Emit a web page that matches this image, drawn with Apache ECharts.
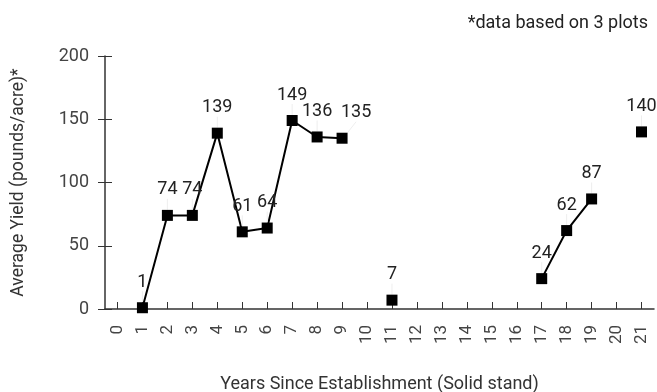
<!DOCTYPE html>
<html><head><meta charset="utf-8">
<script src="https://cdn.jsdelivr.net/npm/echarts@6/dist/echarts.min.js"></script>
<style>html,body{margin:0;padding:0;background:#fff}#c{width:657px;height:392px}</style>
</head><body><div id="c"></div>
<script>
const years = ['0','1','2','3','4','5','6','7','8','9','10','11','12','13','14','15','16','17','18','19','20','21'];
const yieldValues = [null,1,74,74,139,61,64,149,136,135,null,7,null,null,null,null,null,24,62,87,null,140];
const yTicks = [0,50,100,150,200];
const note = '*data based on 3 plots';
const xTitle = 'Years Since Establishment (Solid stand)';
const yTitle = 'Average Yield (pounds/acre)*';

const FONT = 'Roboto';
const chart = echarts.init(document.getElementById('c'));
const axisCol = '#333';
const G = {left: 105, right: 3, top: 56, bottom: 83};
const W = 657 - G.left - G.right, H = 392 - G.top - G.bottom;
chart.setOption({
  animation: false,
  textStyle: {fontFamily: FONT},
  title: {text: note, right: 4, top: 9, textStyle: {fontFamily: FONT, fontSize: 18, fontWeight: 'normal', color: '#222'}},
  grid: Object.assign({outerBoundsMode: 'none', containLabel: false}, G),
  xAxis: [{
    type: 'category', data: years, boundaryGap: true,
    name: xTitle, nameLocation: 'middle', nameGap: 66,
    nameTextStyle: {fontSize: 18, color: '#333'},
    axisLine: {lineStyle: {color: axisCol, width: 1.5}},
    axisTick: {alignWithLabel: true, length: 7, lineStyle: {color: axisCol}},
    axisLabel: {rotate: 90, fontSize: 17, color: '#444', margin: 16, interval: 0}
  }, {
    type: 'category', data: years, boundaryGap: true, position: 'top', offset: -H,
    axisLine: {show: false},
    axisTick: {show: true, alignWithLabel: true, length: 7, lineStyle: {color: axisCol}},
    axisLabel: {show: false}
  }],
  yAxis: [{
    type: 'value', min: 0, max: 200, interval: 50,
    name: yTitle, nameLocation: 'middle', nameGap: 77, nameRotate: 90,
    nameTextStyle: {fontSize: 17.5, color: '#333'},
    axisLine: {show: true, lineStyle: {color: axisCol, width: 1.5}},
    axisTick: {show: true, length: 7, lineStyle: {color: axisCol}},
    axisLabel: {fontSize: 18, color: '#444', margin: 16},
    splitLine: {show: false}
  }, {
    type: 'value', min: 0, max: 200, interval: 50, position: 'right', offset: -W,
    axisLine: {show: false},
    axisTick: {show: true, length: 7, lineStyle: {color: axisCol}},
    axisLabel: {show: false},
    splitLine: {show: false}
  }],
  series: [{
    type: 'line', xAxisIndex: 0, yAxisIndex: 0, data: yieldValues, connectNulls: false,
    symbol: 'rect', symbolSize: 11, z: 3,
    itemStyle: {color: '#000'},
    lineStyle: {color: '#000', width: 2},
    label: {show: true, position: 'top', distance: 4, fontSize: 18, color: '#222'},
    labelLayout: function (p) { return p.dataIndex === 9 ? {dx: 14, dy: -7} : {dy: -7}; },
    labelLine: {show: true, lineStyle: {color: '#eee', width: 1}}
  }, {
    type: 'line', xAxisIndex: 1, yAxisIndex: 1, data: yieldValues.map(() => null),
    symbol: 'none', silent: true
  }]
});
</script></body></html>
